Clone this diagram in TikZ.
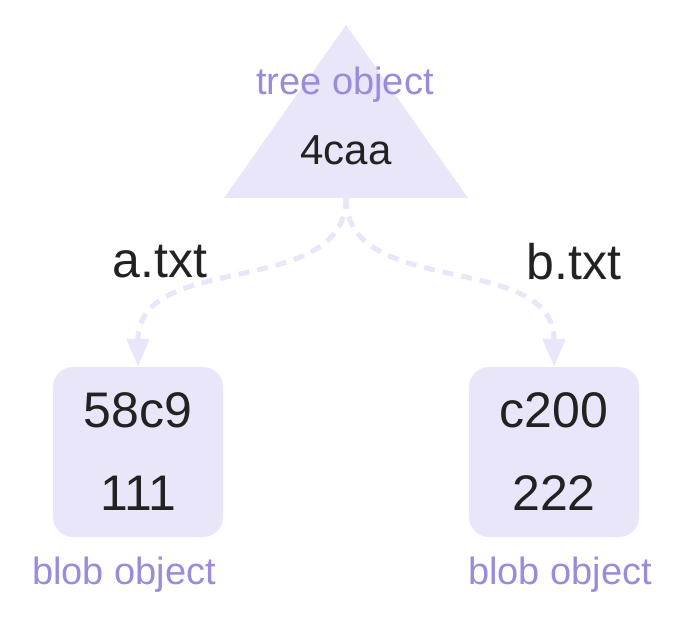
\documentclass[tikz,border=0pt]{standalone}
\usepackage{fontspec}
\setmainfont{Liberation Sans}
\usepackage{xcolor}
\definecolor{lav}{HTML}{E8E6F8}
\definecolor{purp}{HTML}{9C8BD9}
\definecolor{ink}{HTML}{222222}
\usetikzlibrary{positioning,arrows.meta}

\begin{document}
\begin{tikzpicture}[x=1pt,y=-1pt,
		blob/.style={fill=lav,rounded corners=20pt,minimum width=170pt,minimum height=170pt,align=center,text=ink,font=\fontsize{50}{83}\selectfont},
		kind/.style={text=purp,font=\fontsize{38}{44}\selectfont},
		flow/.style={draw=lav,line width=5pt,dash pattern=on 11pt off 8pt,-{Triangle[length=28pt,width=22pt]}},
		fname/.style={text=ink,font=\fontsize{50}{60}\selectfont}]
			\useasboundingbox (0,0) rectangle (698,632);
			\fill[lav] (346,25) -- (468,198) -- (224,198) -- cycle; %%% TREE
			\node[kind] (treekind) at (345,85) {tree object};
			\node[text=ink,font=\fontsize{42}{50}\selectfont] (tree) at (346,150) {4caa};
			\coordinate (treebase) at (346,198);
			
			\node[blob] (blobA) at (138,452) {58c9\\111};
			\node[blob] (blobB) at (554,452) {c200\\222};
			\node[kind] (kindA) at (124,575) {blob object};
			\node[kind] (kindB) at (560,575) {blob object};
			
			\draw[flow] (treebase) .. controls (346,300) and (138,250) .. (blobA.north); %%% A.TXT
			\draw[flow] (treebase) .. controls (346,300) and (554,250) .. (blobB.north); %%% B.TXT
			\node[fname] (nameA) at (160,262) {a.txt};
			\node[fname] (nameB) at (574,262) {b.txt};
			
\end{tikzpicture}
\end{document}
